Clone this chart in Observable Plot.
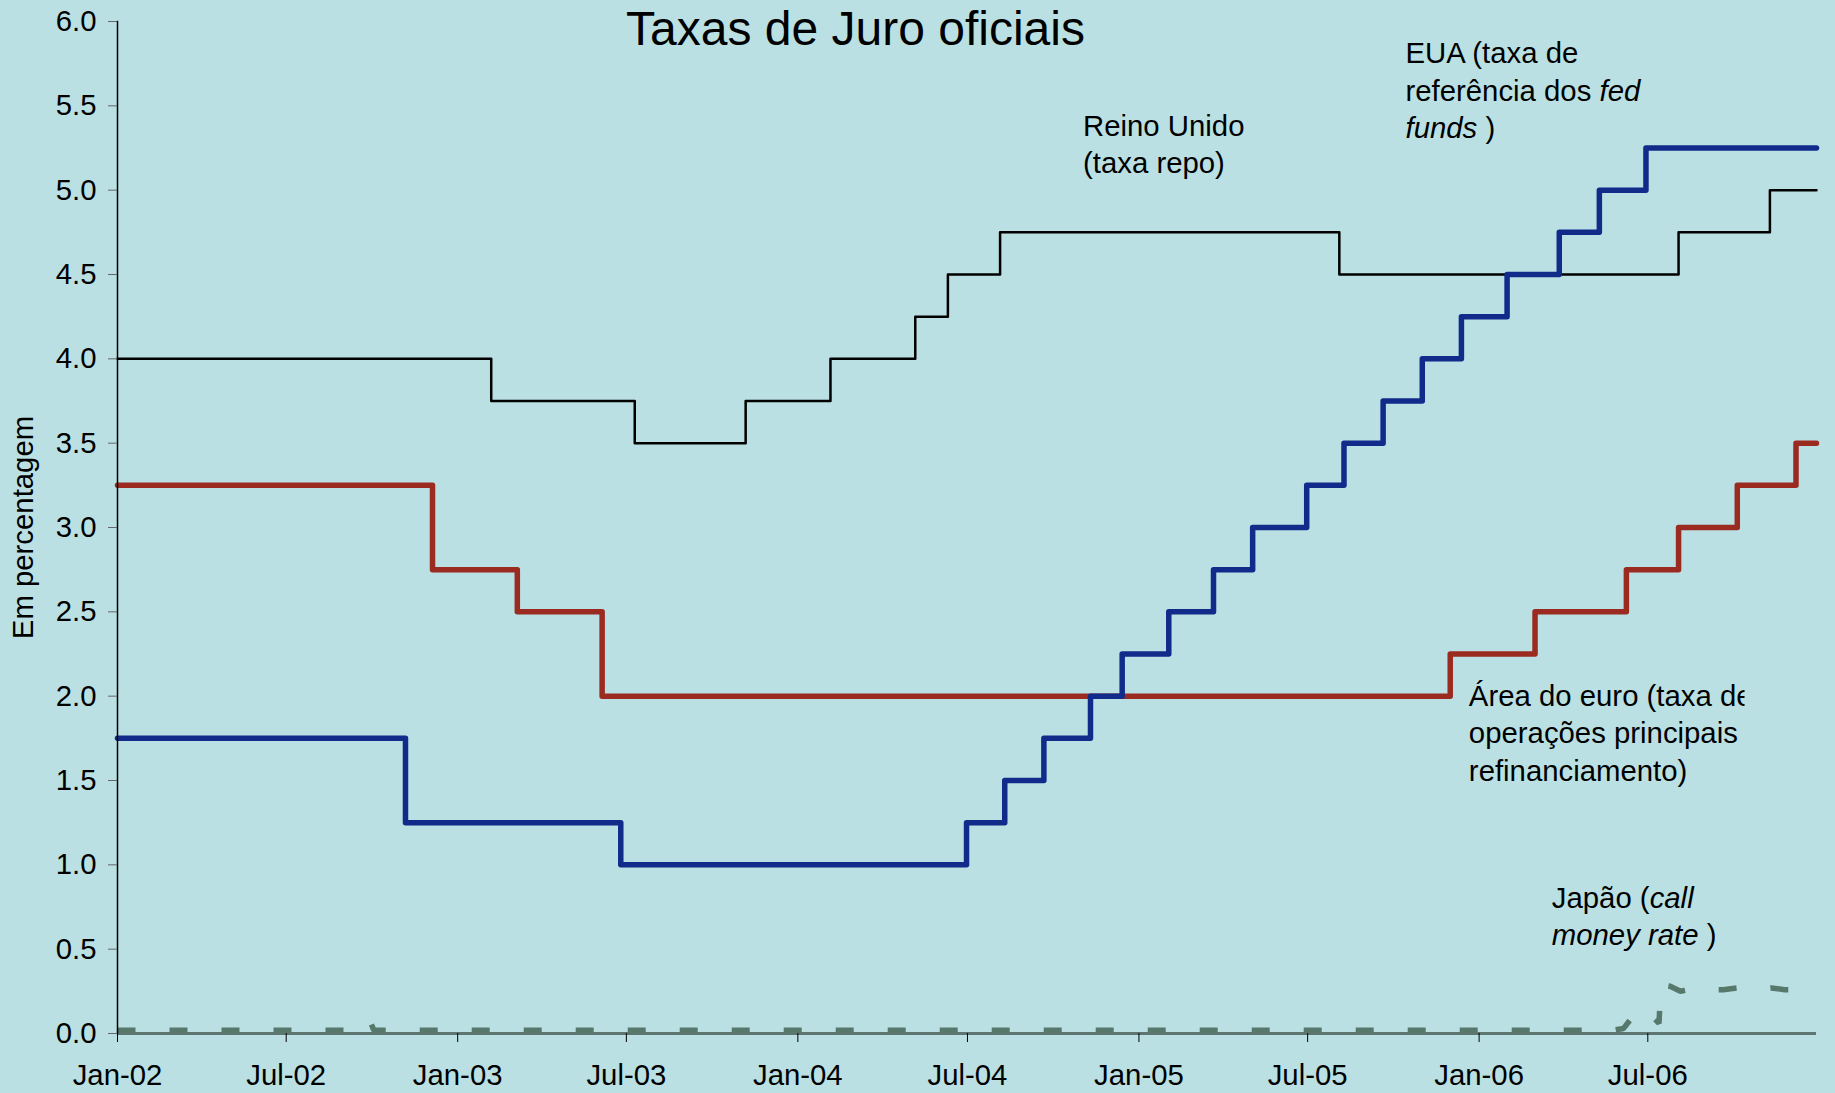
<!DOCTYPE html>
<html><head><meta charset="utf-8">
<script src="https://cdn.jsdelivr.net/npm/d3@7"></script>
<script src="https://cdn.jsdelivr.net/npm/@observablehq/plot@0.6"></script>
<style>
html,body{margin:0;padding:0;background:#bae0e3;}
#chart{position:relative;width:1835px;height:1093px;overflow:hidden;}
</style></head><body><div id="chart"></div>
<script>
// ---- data ----
const chartTitle = "Taxas de Juro oficiais";
const yLabel = "Em percentagem";
const xStart = "2002-01-01", xEnd = "2006-12-29";
const xTicks = ["2002-01-01","2002-07-01","2003-01-01","2003-07-01","2004-01-01","2004-07-01","2005-01-01","2005-07-01","2006-01-01","2006-07-01"];
const yTicks = [0,0.5,1,1.5,2,2.5,3,3.5,4,4.5,5,5.5,6];

const ukDates = ["2002-01-01","2003-02-06","2003-07-10","2003-11-06","2004-02-05","2004-05-06","2004-06-10","2004-08-05","2005-08-04","2006-08-03","2006-11-09","2006-12-29"];
const ukRates = [4.0,3.75,3.5,3.75,4.0,4.25,4.5,4.75,4.5,4.75,5.0,5.0];

const euroDates = ["2002-01-01","2002-12-05","2003-03-06","2003-06-05","2005-12-01","2006-03-02","2006-06-08","2006-08-03","2006-10-05","2006-12-07","2006-12-29"];
const euroRates = [3.25,2.75,2.5,2.0,2.25,2.5,2.75,3.0,3.25,3.5,3.5];

const usDates = ["2002-01-01","2002-11-06","2003-06-25","2004-06-30","2004-08-10","2004-09-21","2004-11-10","2004-12-14","2005-02-02","2005-03-22","2005-05-03","2005-06-30","2005-08-09","2005-09-20","2005-11-01","2005-12-13","2006-01-31","2006-03-28","2006-05-10","2006-06-29","2006-12-29"];
const usRates = [1.75,1.25,1.0,1.25,1.5,1.75,2.0,2.25,2.5,2.75,3.0,3.25,3.5,3.75,4.0,4.25,4.5,4.75,5.0,5.25,5.25];

const japanDates = ["2002-01-01","2002-09-20","2002-09-25","2002-09-30","2002-10-03","2006-05-25","2006-06-05","2006-06-12","2006-06-18","2006-06-28","2006-07-06","2006-07-13","2006-07-15","2006-07-25","2006-08-05","2006-08-20","2006-09-05","2006-09-20","2006-10-05","2006-10-25","2006-11-10","2006-11-25","2006-12-10","2006-12-29"];
const japanRates = [0.02,0.02,0.07,0.06,0.02,0.02,0.03,0.08,0.04,0.05,0.10,0.06,0.29,0.28,0.25,0.27,0.26,0.26,0.27,0.26,0.27,0.26,0.26,0.26];

const annoTexts = ["Reino Unido\n(taxa repo)", "EUA (taxa de\nreferência dos *fed*\n*funds* )", "Área do euro (taxa de\noperações principais de\nrefinanciamento)", "Japão (*call*\n*money rate* )"];
const annoDates = ["2004-11-02","2005-10-14","2005-12-21","2006-03-20"];
const annoValues = [5.48,5.91,2.10,0.905];

// ---- build tables ----
const rows = (dates, rates) => dates.map((d, i) => ({date: new Date(d), rate: rates[i]}));
const uk = rows(ukDates, ukRates), euro = rows(euroDates, euroRates), us = rows(usDates, usRates), japan = rows(japanDates, japanRates);
const annos = annoTexts.map((t, i) => ({text: t, date: new Date(annoDates[i]), value: annoValues[i]}));

const FS = 29.33;
const plot = Plot.plot({
  width: 1835, height: 1093,
  marginLeft: 117, marginRight: 19, marginTop: 21, marginBottom: 60,
  style: {fontFamily: "'Liberation Sans', Arial, sans-serif", backgroundColor: "#bae0e3", color: "#000"},
  x: {type: "utc", domain: [new Date(xStart), new Date(xEnd)]},
  y: {domain: [0, 6]},
  marks: [
    Plot.ruleY([0], {stroke: "#5e7572", strokeWidth: 3}),
    Plot.line(japan, {x: "date", y: "rate", stroke: "#56796c", strokeWidth: 5.5, strokeDasharray: "18,34", strokeLinecap: "butt", strokeLinejoin: "miter"}),
    Plot.line(uk, {x: "date", y: "rate", curve: "step-after", stroke: "#000", strokeWidth: 2.5}),
    Plot.line(euro, {x: "date", y: "rate", curve: "step-after", stroke: "#9b2a20", strokeWidth: 5.5}),
    Plot.line(us, {x: "date", y: "rate", curve: "step-after", stroke: "#112b8b", strokeWidth: 5.5}),
    Plot.frame({anchor: "left", stroke: "#000", strokeWidth: 1.5}),
    Plot.axisY(yTicks, {tickFormat: d3.format(".1f"), tickSize: 9, tickPadding: 12, fontSize: FS, stroke: "#666", fill: "#000", label: null}),
    Plot.axisX(xTicks.map(d => new Date(d)), {tickFormat: d3.utcFormat("%b-%y"), tickSize: 9, tickPadding: 22, fontSize: FS, stroke: "#000", fill: "#000", label: null}),
    Plot.text([yLabel], {frameAnchor: "left", dx: -94, rotate: -90, textAnchor: "middle", lineAnchor: "middle", fontSize: FS, fill: "#000"}),
    Plot.text([chartTitle], {frameAnchor: "top", dx: 855 - 966.5, dy: 23, lineAnchor: "bottom", textAnchor: "middle", fontSize: 48, fill: "#000"}),
    Plot.text(annos, {x: "date", y: "value", text: "text", textAnchor: "start", lineAnchor: "top", lineHeight: 1.28, fontSize: FS, fill: "#000"})
  ]
});

// italic segments marked with *...*
const NS = "http://www.w3.org/2000/svg";
plot.querySelectorAll("text").forEach(t => {
  const spans = t.querySelectorAll("tspan");
  const targets = spans.length ? Array.from(spans) : [t];
  targets.forEach(el => {
    const s = el.textContent;
    if (!s.includes("*")) return;
    el.textContent = "";
    s.split("*").forEach((seg, i) => {
      if (!seg) return;
      const ts = document.createElementNS(NS, "tspan");
      ts.textContent = seg;
      if (i % 2) ts.setAttribute("font-style", "italic");
      el.appendChild(ts);
    });
  });
});
// clip the euro-area note as in the original
const defs = document.createElementNS(NS, "defs");
const cp = document.createElementNS(NS, "clipPath");
cp.setAttribute("id", "euroClip");
const cr = document.createElementNS(NS, "rect");
cr.setAttribute("x", 0); cr.setAttribute("y", 0); cr.setAttribute("width", 1744); cr.setAttribute("height", 1093);
cp.appendChild(cr); defs.appendChild(cp); plot.insertBefore(defs, plot.firstChild);
plot.querySelectorAll("text").forEach(t => {
  if (t.textContent.startsWith("Área")) {
    const g = document.createElementNS(NS, "g");
    g.setAttribute("clip-path", "url(#euroClip)");
    t.parentNode.insertBefore(g, t);
    g.appendChild(t);
  }
});
document.getElementById("chart").appendChild(plot);
</script></body></html>
